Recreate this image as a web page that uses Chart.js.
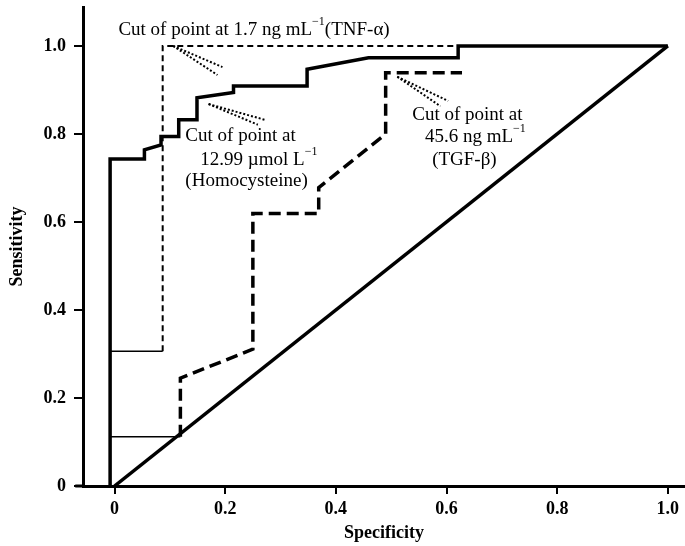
<!DOCTYPE html>
<html>
<head>
<meta charset="utf-8">
<script src="https://cdn.jsdelivr.net/npm/chart.js@4.4.0/dist/chart.umd.min.js"></script>
<style>
  html, body { margin: 0; padding: 0; background: #fff; }
  #wrap { width: 685px; height: 546px; }
</style>
</head>
<body>
<div id="wrap"><canvas id="roc"></canvas></div>
<script>
// courbes ROC (specificite en x, sensibilite en y)
const homoX = [-0.008, -0.008, 0.054, 0.054, 0.084, 0.084, 0.116, 0.116, 0.149, 0.149, 0.215, 0.215, 0.348, 0.348, 0.459, 0.621, 0.621, 1.0];
const homoY = [0, 0.743, 0.743, 0.764, 0.775, 0.794, 0.794, 0.832, 0.832, 0.882, 0.894, 0.909, 0.909, 0.947, 0.973, 0.973, 1.0, 1.0];

const tnfX = [-0.008, 0.087, 0.087, 1.0];
const tnfY = [0.306, 0.306, 1.0, 1.0];

const tgfX = [-0.008, 0.119, 0.119, 0.25, 0.25, 0.369, 0.369, 0.49, 0.49, 0.628];
const tgfY = [0.112, 0.112, 0.245, 0.311, 0.619, 0.619, 0.678, 0.80, 0.939, 0.939];

const refX = [0, 1];
const refY = [0, 1];

const tickValues = [0, 0.2, 0.4, 0.6, 0.8, 1.0];

// textes des seuils (position gauche / centre vertical en unites des axes)
const notes = [
    { x: 0.007, y: 1.036, parts: [["Cut of point at 1.7 ng mL"], ["\u22121", true], ["(TNF-\u03b1)"]] },
    { x: 0.128, y: 0.796, parts: [["Cut of point at"]] },
    { x: 0.155, y: 0.741, parts: [["12.99 \u00b5mol L"], ["\u22121", true]] },
    { x: 0.128, y: 0.694, parts: [["(Homocysteine)"]] },
    { x: 0.538, y: 0.843, parts: [["Cut of point at"]] },
    { x: 0.561, y: 0.793, parts: [["45.6 ng mL"], ["\u22121", true]] },
    { x: 0.574, y: 0.741, parts: [["(TGF-\u03b2)"]] }
];

// fleches pointillees : pointe puis deux extremites
const arrows = [
    { tip: [0.106, 1.0], a: [0.195, 0.952], b: [0.186, 0.934] },
    { tip: [0.170, 0.868], a: [0.272, 0.832], b: [0.259, 0.821] },
    { tip: [0.511, 0.930], a: [0.603, 0.875], b: [0.589, 0.863] }
];

const toPoints = (xs, ys) => xs.map((x, i) => ({ x: x, y: ys[i] }));
const FONT = "'Liberation Serif', 'Times New Roman', serif";
const INK = '#000';

const annotPlugin = {
    id: 'annot',
    afterDatasetsDraw(chart) {
        const ctx = chart.ctx;
        const sx = chart.scales.x, sy = chart.scales.y;
        const area = chart.chartArea;
        ctx.save();

        // bout de l'axe x qui depasse a gauche
        ctx.strokeStyle = INK;
        ctx.lineWidth = 3;
        ctx.beginPath();
        ctx.moveTo(sx.getPixelForValue(-0.071), area.bottom);
        ctx.lineTo(area.left, area.bottom);
        ctx.stroke();

        // fleches
        ctx.lineWidth = 2;
        ctx.setLineDash([2, 2]);
        arrows.forEach(ar => {
            const tx = sx.getPixelForValue(ar.tip[0]), ty = sy.getPixelForValue(ar.tip[1]);
            [ar.a, ar.b].forEach(p => {
                ctx.beginPath();
                ctx.moveTo(tx, ty);
                ctx.lineTo(sx.getPixelForValue(p[0]), sy.getPixelForValue(p[1]));
                ctx.stroke();
            });
        });
        ctx.setLineDash([]);

        // textes
        ctx.fillStyle = INK;
        ctx.textBaseline = 'middle';
        ctx.textAlign = 'left';
        notes.forEach(n => {
            let x = sx.getPixelForValue(n.x);
            const y = sy.getPixelForValue(n.y);
            n.parts.forEach(([txt, sup]) => {
                ctx.font = sup ? `12px ${FONT}` : `19px ${FONT}`;
                ctx.fillText(txt, x, sup ? y - 8 : y);
                x += ctx.measureText(txt).width;
            });
        });
        ctx.restore();
    }
};

new Chart(document.getElementById('roc'), {
    type: 'scatter',
    data: {
        datasets: [
            {
                label: 'Diagonale',
                data: toPoints(refX, refY),
                borderColor: INK,
                borderWidth: 3.5
            },
            {
                label: 'Homocysteine',
                data: toPoints(homoX, homoY),
                borderColor: INK,
                borderWidth: 3.5
            },
            {
                label: 'TNF-alpha',
                data: toPoints(tnfX, tnfY),
                borderColor: INK,
                borderWidth: 2,
                segment: {
                    borderDash: c => c.p0DataIndex === 0 ? [] : [6, 4],
                    borderWidth: c => c.p0DataIndex === 0 ? 1.5 : 2
                }
            },
            {
                label: 'TGF-beta',
                data: toPoints(tgfX, tgfY),
                borderColor: INK,
                borderWidth: 3.5,
                segment: {
                    borderDash: c => c.p0DataIndex === 0 ? [] : [12, 6],
                    borderWidth: c => c.p0DataIndex === 0 ? 1.5 : 3.5
                }
            }
        ]
    },
    options: {
        responsive: true,
        maintainAspectRatio: false,
        animation: false,
        layout: { padding: { top: 7, left: 0, right: 0, bottom: 0 } },
        datasets: {
            scatter: {
                showLine: true,
                pointRadius: 0,
                borderJoinStyle: 'miter',
                borderCapStyle: 'butt',
                fill: false
            }
        },
        plugins: {
            legend: { display: false },
            tooltip: { enabled: false },
            colors: { enabled: false }
        },
        scales: {
            x: {
                type: 'linear',
                min: -0.057,
                max: 1.031,
                afterBuildTicks: s => { s.ticks = tickValues.map(v => ({ value: v })); },
                afterFit: s => { s.height = 60; s.paddingLeft = 0; s.paddingRight = 0; },
                border: { display: true, color: INK, width: 3 },
                grid: { drawOnChartArea: false, color: INK, lineWidth: 2, tickLength: 8 },
                ticks: {
                    color: INK,
                    padding: 5,
                    maxRotation: 0,
                    font: { family: FONT, size: 18, weight: 'bold' },
                    callback: v => v === 0 ? '0' : v.toFixed(1)
                },
                title: {
                    display: true,
                    text: 'Specificity',
                    color: INK,
                    padding: { top: 0, bottom: 2 },
                    font: { family: FONT, size: 18, weight: 'bold' }
                }
            },
            y: {
                type: 'linear',
                min: 0,
                max: 1.0885,
                afterBuildTicks: s => { s.ticks = tickValues.map(v => ({ value: v })); },
                afterFit: s => { s.width = 83; s.paddingTop = 0; s.paddingBottom = 0; },
                border: { display: true, color: INK, width: 3 },
                grid: { drawOnChartArea: false, color: INK, lineWidth: 2, tickLength: 9 },
                ticks: {
                    color: INK,
                    padding: 8,
                    font: { family: FONT, size: 18, weight: 'bold' },
                    callback: v => v === 0 ? '0' : v.toFixed(1)
                },
                title: {
                    display: true,
                    text: 'Sensitivity',
                    color: INK,
                    padding: { top: 7, bottom: 0 },
                    font: { family: FONT, size: 18, weight: 'bold' }
                }
            }
        }
    },
    plugins: [annotPlugin]
});
</script>
</body>
</html>
